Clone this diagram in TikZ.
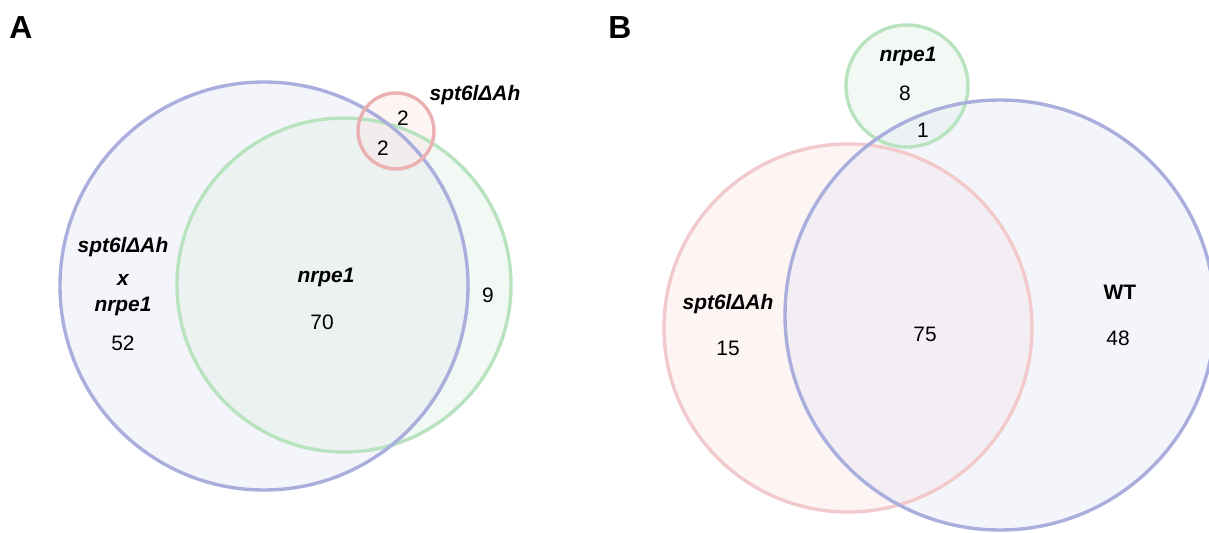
\documentclass[tikz,border=0pt]{standalone}
\usepackage{fontspec}
\setmainfont{Liberation Sans}
\definecolor{blueline}{HTML}{A9AEDC}
\definecolor{greenline}{HTML}{B8E3BE}
\definecolor{redline}{HTML}{EBB0B2}
\definecolor{paleredline}{HTML}{F2CACB}
\definecolor{bluefill}{HTML}{E6E8F6}
\definecolor{greenfill}{HTML}{E2EFE4}
\definecolor{redfill}{HTML}{FBE6E7}
\tikzset{
  setdisc/.style={circle, inner sep=0pt, fill=#1fill, fill opacity=0.42},
  rim/.style={line width=3.4bp, draw=#1},
  setname/.style={font=\fontsize{21}{24}\selectfont\bfseries\itshape, inner sep=0pt},
  count/.style={font=\fontsize{21}{24}\selectfont, inner sep=0pt},
  panel/.style={font=\fontsize{32}{36}\selectfont\bfseries, inner sep=0pt}
}
\begin{document}
\begin{tikzpicture}[x=1bp,y=-1bp]
\useasboundingbox (0,0) rectangle (1209,533);
\clip (0,0) rectangle (1209,533);
\fill[white] (0,0) rectangle (1209,533);

% Panel A: discs, then their outlines
\node[panel] (labA) at (21,28) {A};
\node[setdisc=blue, minimum size=408bp] (aBlue) at (264,286) {};
\node[setdisc=green, minimum size=334bp] (aGreen) at (344,285) {};
\node[setdisc=red, minimum size=76bp] (aRed) at (396,131) {};
\draw[rim=greenline] (aGreen.center) circle[radius=167];
\draw[rim=blueline] (aBlue.center) circle[radius=204];
\draw[rim=redline] (aRed.center) circle[radius=38];

\node[setname] (aRedName) at (475,95) {spt6lΔAh};
\node[count] (aRedOnly) at (403,118) {2};
\node[count] (aRedBlue) at (383,148) {2};
\node[setname] (aBlueName1) at (123,247) {spt6lΔAh};
\node[setname] (aBlueName2) at (123,280) {x};
\node[setname] (aBlueName3) at (123,306) {nrpe1};
\node[count] (aBlueOnly) at (123,343) {52};
\node[setname] (aGreenName) at (326,277) {nrpe1};
\node[count] (aBoth) at (322,322) {70};
\node[count] (aGreenOnly) at (488,295) {9};

% Panel B: discs, then their outlines
\node[panel] (labB) at (620,28) {B};
\node[setdisc=red, minimum size=368bp] (bRed) at (848,328) {};
\node[setdisc=green, minimum size=122bp] (bGreen) at (907,86) {};
\node[setdisc=blue, minimum size=430bp] (bBlue) at (1000,315) {};
\draw[rim=paleredline] (bRed.center) circle[radius=184];
\draw[rim=greenline] (bGreen.center) circle[radius=61];
\draw[rim=blueline] (bBlue.center) circle[radius=215];

\node[setname] (bGreenName) at (908,56) {nrpe1};
\node[count] (bGreenOnly) at (905,93) {8};
\node[count] (bGreenBlue) at (923,130) {1};
\node[setname] (bRedName) at (728,304) {spt6lΔAh};
\node[count] (bRedOnly) at (728,348) {15};
\node[count] (bBoth) at (925,334) {75};
\node[setname, font=\fontsize{21}{24}\selectfont\bfseries] (bBlueName) at (1120,292) {WT};
\node[count] (bBlueOnly) at (1118,338) {48};
\end{tikzpicture}
\end{document}
